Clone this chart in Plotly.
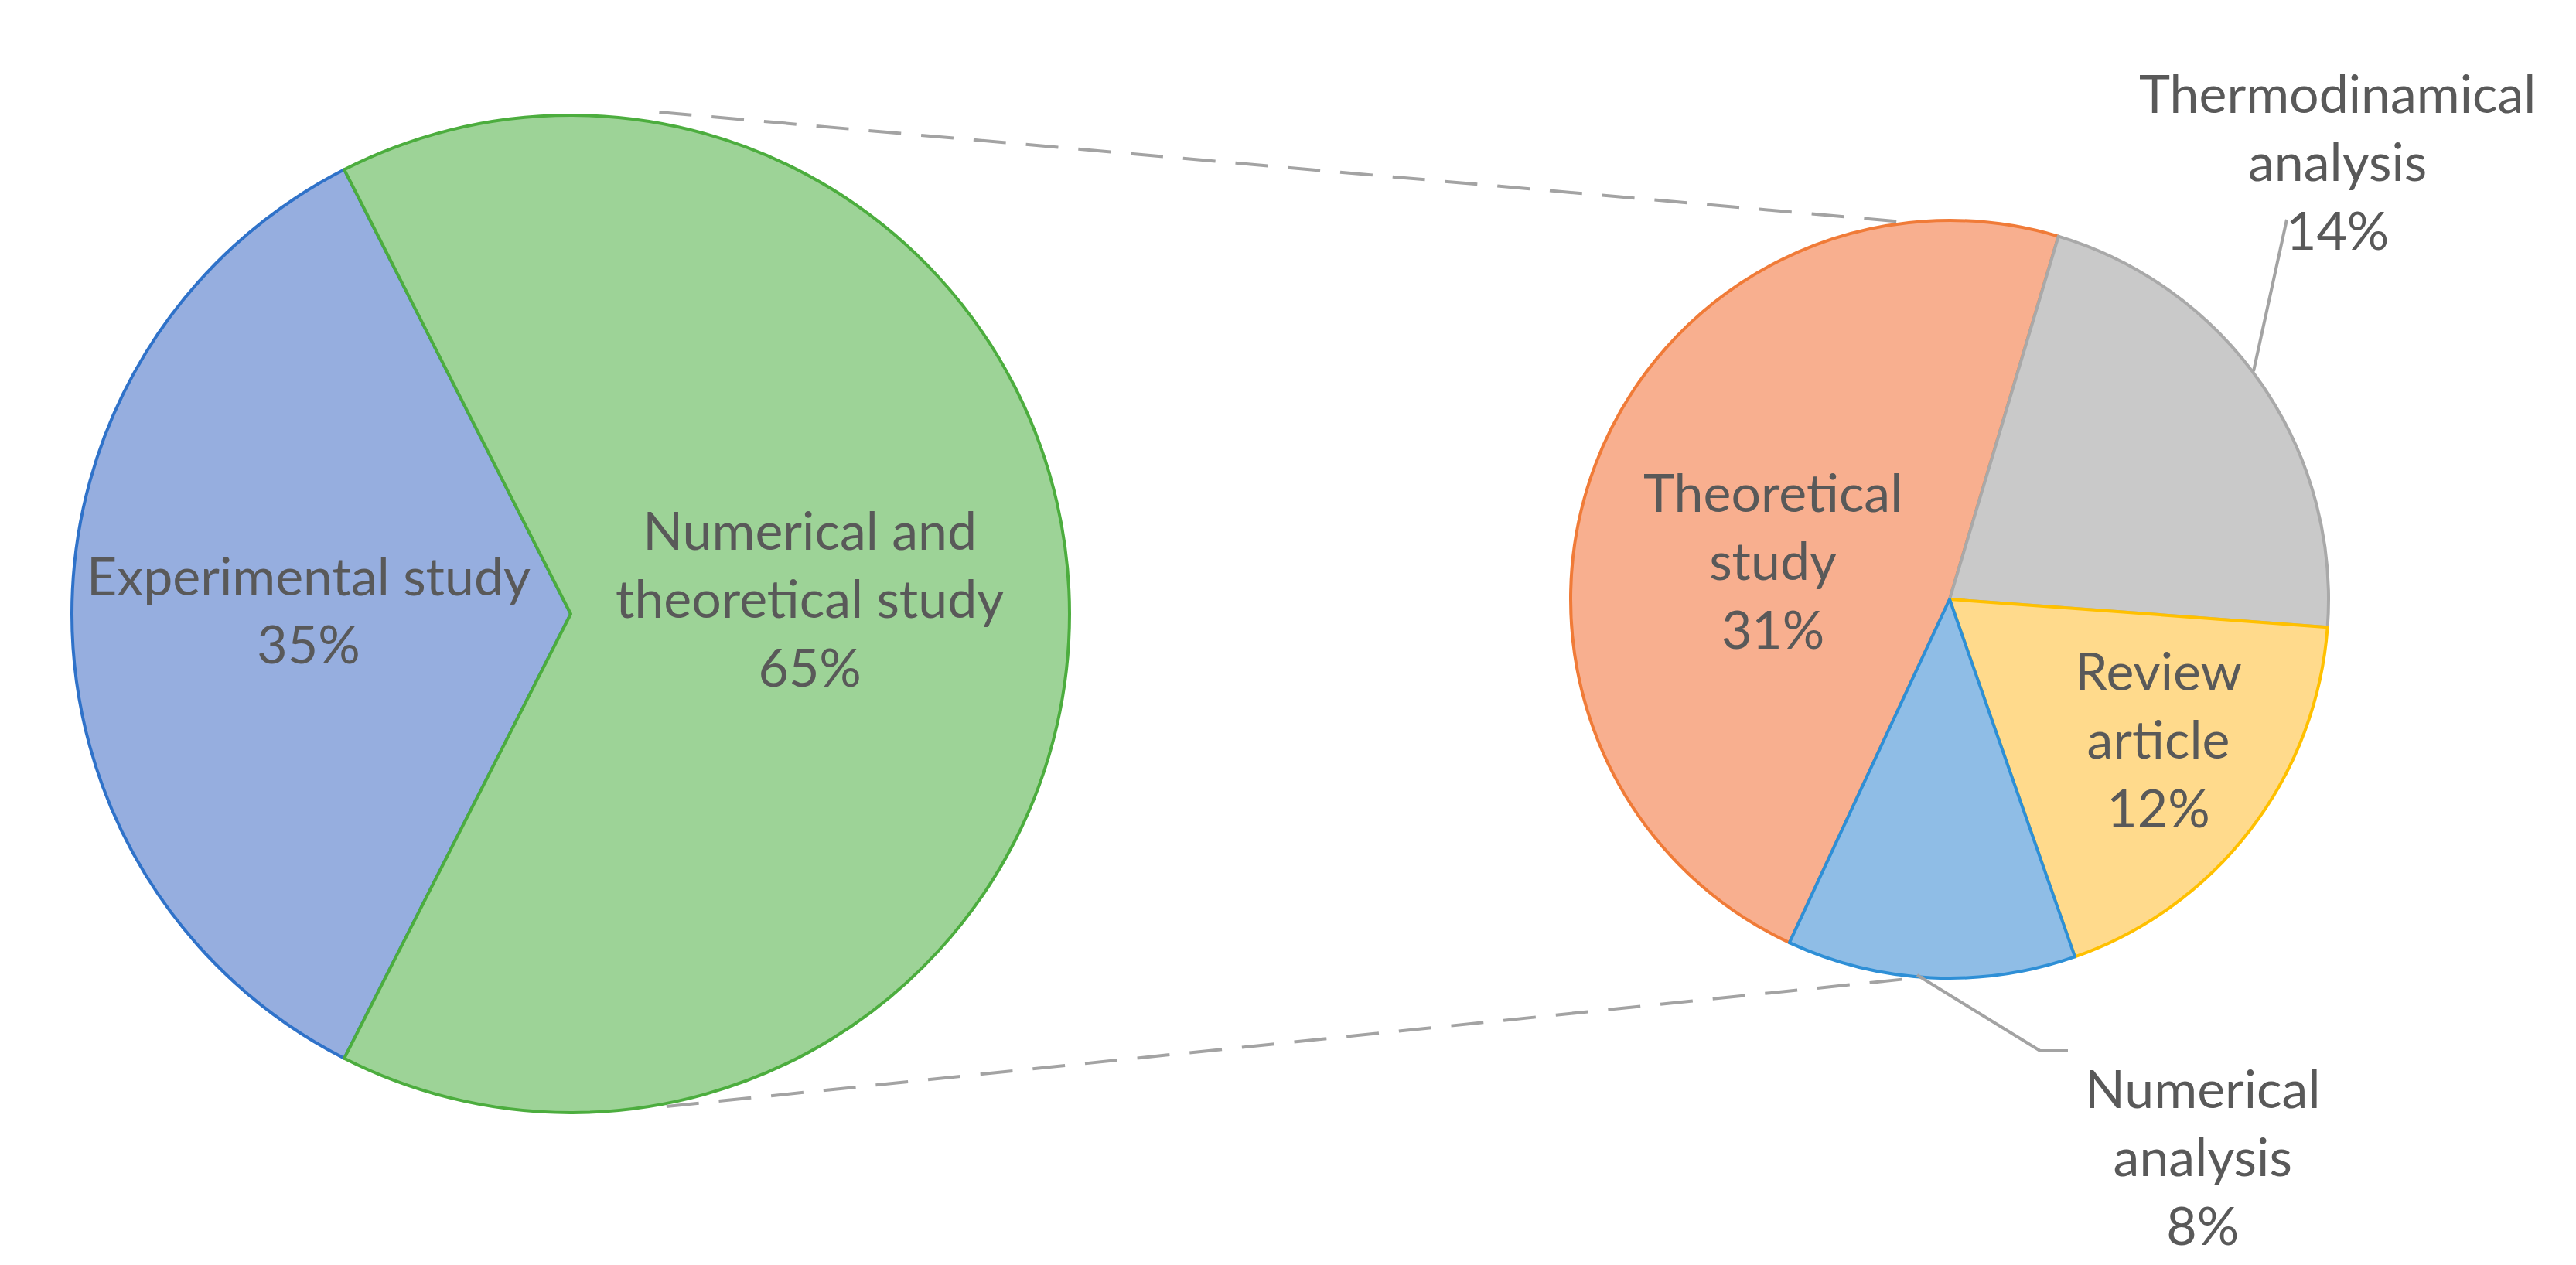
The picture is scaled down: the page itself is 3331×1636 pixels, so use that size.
import math

import plotly.graph_objects as go

W, H = 3331, 1636

# main pie
main_labels = ["Experimental study", "Numerical and<br>theoretical study"]
main_values = [35, 65]
main_fill = ["#96AEDF", "#9DD397"]
main_edge = ["#2F72C9", "#4CAD3E"]

# breakdown of the 65% slice
sub_labels = ["Theoretical<br>study", "Thermodinamical<br>analysis", "Review<br>article", "Numerical<br>analysis"]
sub_values = [31, 14, 12, 8]
sub_fill = ["#F8AF8F", "#C9C9C9", "#FFDA8C", "#8FBDE6"]
sub_edge = ["#F07B38", "#A9A9A9", "#FFC000", "#2E8FD6"]

TEXT = "#595959"
GUIDE = "#A3A3A3"
FONT = "Lato"
FSIZE = 68

# pixel geometry of the two pies
main_c, main_r = (730, 786), 645
sub_c, sub_r = (2513, 767), 490


def px(x, y):
    return x / W, 1 - y / H


def domain(c, r):
    return dict(x=[(c[0] - r) / W, (c[0] + r) / W],
                y=[1 - (c[1] + r) / H, 1 - (c[1] - r) / H])


def rim(c, r, deg):
    a = math.radians(deg)
    return c[0] + r * math.cos(a), c[1] - r * math.sin(a)


def pct(v, total):
    return f"{round(100 * v / total)}%"


fig = go.Figure()

fig.add_trace(go.Pie(
    labels=main_labels,
    values=main_values,
    sort=False,
    direction="clockwise",
    rotation=207,
    marker=dict(colors=main_fill, line=dict(color=main_edge, width=4)),
    textinfo="none",
    hoverinfo="skip",
    domain=domain(main_c, main_r),
))

fig.add_trace(go.Pie(
    labels=sub_labels,
    values=sub_values,
    sort=False,
    direction="clockwise",
    rotation=205,
    marker=dict(colors=sub_fill, line=dict(color=sub_edge, width=4)),
    textinfo="none",
    hoverinfo="skip",
    domain=domain(sub_c, sub_r),
))

# dashed connectors between the pies
a0 = rim(main_c, main_r + 14, 80)
b0 = rim(sub_c, sub_r, 96)
a1 = rim(main_c, main_r + 4, -79)
b1 = rim(sub_c, sub_r, -94)
for p, q in [(a0, b0), (a1, b1)]:
    x0, y0 = px(*p)
    x1, y1 = px(*q)
    fig.add_shape(type="line", xref="paper", yref="paper",
                  x0=x0, y0=y0, x1=x1, y1=y1,
                  line=dict(color=GUIDE, width=4, dash="42px,26px"))

# leader lines for the outside labels
leaders = [
    [(2906, 472), (2949, 276)],
    [(2471, 1253), (2630, 1351), (2666, 1351)],
]
for pts in leaders:
    path = ""
    for i, (x, y) in enumerate(pts):
        xp, yp = px(x, y)
        path += ("M" if i == 0 else " L") + f" {xp} {yp}"
    fig.add_shape(type="path", xref="paper", yref="paper", path=path,
                  line=dict(color=GUIDE, width=4))

# label positions (pixel centres of each text block)
main_pos = [(391, 780), (1039, 765)]
sub_pos = [(2284, 716), (3014, 200), (2783, 947), (2840, 1487)]

main_total = sum(main_values)
for lab, v, (x, y) in zip(main_labels, main_values, main_pos):
    xp, yp = px(x, y)
    fig.add_annotation(x=xp, y=yp, xref="paper", yref="paper",
                       text=f"{lab}<br>{pct(v, main_total)}", showarrow=False,
                       font=dict(family=FONT, size=FSIZE, color=TEXT),
                       xanchor="center", yanchor="middle", align="center")

for lab, v, (x, y) in zip(sub_labels, sub_values, sub_pos):
    xp, yp = px(x, y)
    fig.add_annotation(x=xp, y=yp, xref="paper", yref="paper",
                       text=f"{lab}<br>{v}%", showarrow=False,
                       font=dict(family=FONT, size=FSIZE, color=TEXT),
                       xanchor="center", yanchor="middle", align="center")

fig.update_layout(
    width=W,
    height=H,
    margin=dict(l=0, r=0, t=0, b=0),
    paper_bgcolor="white",
    plot_bgcolor="white",
    showlegend=False,
)

fig.write_html("out.html")
